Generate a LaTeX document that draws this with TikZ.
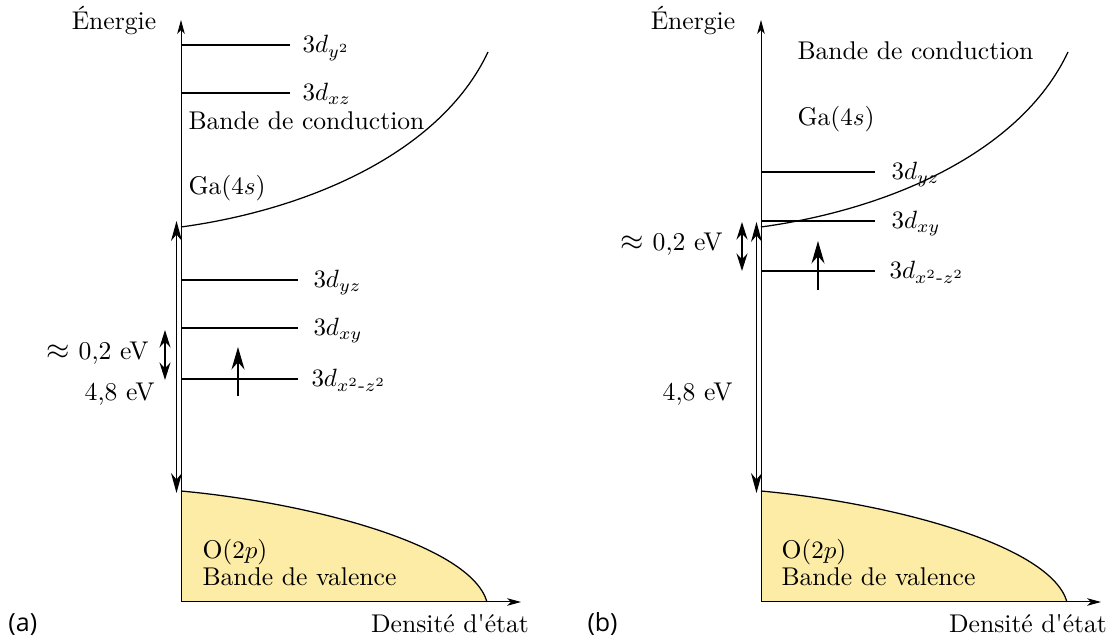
\documentclass[tikz,border=0pt]{standalone}
\usepackage{amsmath}
\usepackage{fontspec}
\newfontfamily\panelfont{Open Sans}
\usetikzlibrary{arrows.meta}
\definecolor{valyellow}{RGB}{253,236,166}
\begin{document}
\begin{tikzpicture}[x=0.4pt,y=-0.4pt,
  axisline/.style={line width=0.4pt,-{Stealth[length=5.5pt,width=3pt,inset=1.5pt]}},
  level/.style={line width=0.65pt},
  bigarrow/.style={line width=0.45pt,{Stealth[length=8pt,width=4.4pt]}-{Stealth[length=8pt,width=4.4pt]}},
  gaparrow/.style={line width=0.6pt,{Stealth[length=7pt,width=4.4pt]}-{Stealth[length=7pt,width=4.4pt]}},
  spin/.style={line width=0.6pt,-{Stealth[length=9pt,width=5.2pt]}},
  band/.style={line width=0.5pt},
  txt/.style={inner sep=0pt,font=\fontsize{10.25}{12}\selectfont},
  lvl/.style={txt,anchor=base west},
  paneltag/.style={inner sep=0pt,anchor=base west,font=\panelfont\fontsize{10}{12}\selectfont}
]
\useasboundingbox (0,0) rectangle (1116,639);

% ================= Panel (a) =================
\coordinate (a-O) at (181,602);
\coordinate (a-Ytop) at (181,20);
\coordinate (a-Xend) at (521,602);
\coordinate (a-vtop) at (181,491);
\coordinate (a-vend) at (487,602);
\fill[valyellow] (a-vtop) .. controls (311,503) and (471,545) .. (a-vend) -- (a-O) -- cycle;
\draw[band] (a-vtop) .. controls (311,503) and (471,545) .. (a-vend);
\draw[axisline] (a-O) -- (a-Ytop);
\draw[axisline] (a-O) -- (a-Xend);
\coordinate (a-cb) at (181,227);
\coordinate (a-cend) at (488,52);
\draw[band] (a-cb) .. controls (306,210) and (440,154) .. (a-cend);

\coordinate (a-g1) at (176.5,221);
\coordinate (a-g2) at (176.5,493);
\draw[bigarrow] (a-g2) -- (a-g1);

% levels
\coordinate (a-l1s) at (181,45);  \coordinate (a-l1e) at (290,45);
\coordinate (a-l2s) at (181,93);  \coordinate (a-l2e) at (290,93);
\coordinate (a-l3s) at (181,280); \coordinate (a-l3e) at (298,280);
\coordinate (a-l4s) at (181,328); \coordinate (a-l4e) at (298,328);
\coordinate (a-l5s) at (181,379); \coordinate (a-l5e) at (298,379);
\draw[level] (a-l1s) -- (a-l1e);
\draw[level] (a-l2s) -- (a-l2e);
\draw[level] (a-l3s) -- (a-l3e);
\draw[level] (a-l4s) -- (a-l4e);
\draw[level] (a-l5s) -- (a-l5e);
\node[lvl] (a-t1) at (302,53) {$3d_{y^2}$};
\node[lvl] (a-t2) at (302,101) {$3d_{xz}$};
\node[lvl] (a-t3) at (313,288) {$3d_{yz}$};
\node[lvl] (a-t4) at (313,336) {$3d_{xy}$};
\node[lvl] (a-t5) at (311,387) {$3d_{x^2\textrm{-}z^2}$};

\coordinate (a-e1) at (238,396);
\coordinate (a-e2) at (238,347);
\draw[spin] (a-e1) -- (a-e2);

\coordinate (a-s1) at (165,330);
\coordinate (a-s2) at (165,380);
\draw[gaparrow] (a-s1) -- (a-s2);

\node[txt,anchor=base east] (a-gap) at (149,360) {{\large$\approx$} 0,2 eV};
\node[txt,anchor=base east] (a-eg) at (155,401) {4,8 eV};
\node[txt,anchor=base] (a-energy) at (114,30) {Énergie};
\node[txt,anchor=base] (a-dos) at (450,633) {Densité d\textquotesingle état};
\node[txt,anchor=base west] (a-cond) at (188,130) {Bande de conduction};
\node[txt,anchor=base west] (a-ga) at (188,195) {Ga($4s$)};
\node[txt,anchor=base west] (a-o) at (202,558) {O($2p$)};
\node[txt,anchor=base west] (a-val) at (202,586) {Bande de valence};
\node[paneltag] (a-tag) at (8,632) {(a)};

% ================= Panel (b) =================
\coordinate (b-O) at (761,602);
\coordinate (b-Ytop) at (761,20);
\coordinate (b-Xend) at (1101,602);
\coordinate (b-vtop) at (761,491);
\coordinate (b-vend) at (1067,602);
\fill[valyellow] (b-vtop) .. controls (891,503) and (1051,545) .. (b-vend) -- (b-O) -- cycle;
\draw[band] (b-vtop) .. controls (891,503) and (1051,545) .. (b-vend);
\draw[axisline] (b-O) -- (b-Ytop);
\draw[axisline] (b-O) -- (b-Xend);
\coordinate (b-cb) at (761,227);
\coordinate (b-cend) at (1068,52);
\draw[band] (b-cb) .. controls (886,210) and (1020,154) .. (b-cend);

\coordinate (b-g1) at (756.5,222);
\coordinate (b-g2) at (756.5,493);
\draw[bigarrow] (b-g2) -- (b-g1);

\coordinate (b-l3s) at (761,172); \coordinate (b-l3e) at (875,172);
\coordinate (b-l4s) at (761,221); \coordinate (b-l4e) at (875,221);
\coordinate (b-l5s) at (761,271); \coordinate (b-l5e) at (875,271);
\draw[level] (b-l3s) -- (b-l3e);
\draw[level] (b-l4s) -- (b-l4e);
\draw[level] (b-l5s) -- (b-l5e);
\node[lvl] (b-t3) at (891,180) {$3d_{yz}$};
\node[lvl] (b-t4) at (891,229) {$3d_{xy}$};
\node[lvl] (b-t5) at (889,279) {$3d_{x^2\textrm{-}z^2}$};

\coordinate (b-e1) at (818,290);
\coordinate (b-e2) at (818,241);
\draw[spin] (b-e1) -- (b-e2);

\coordinate (b-s1) at (742,222);
\coordinate (b-s2) at (742,271);
\draw[gaparrow] (b-s1) -- (b-s2);

\node[txt,anchor=base east] (b-gap) at (723,251) {{\large$\approx$} 0,2 eV};
\node[txt,anchor=base east] (b-eg) at (733,401) {4,8 eV};
\node[txt,anchor=base] (b-energy) at (693,30) {Énergie};
\node[txt,anchor=base] (b-dos) at (1028,633) {Densité d\textquotesingle état};
\node[txt,anchor=base west] (b-cond) at (797,60) {Bande de conduction};
\node[txt,anchor=base west] (b-ga) at (797,126) {Ga($4s$)};
\node[txt,anchor=base west] (b-o) at (781,558) {O($2p$)};
\node[txt,anchor=base west] (b-val) at (781,586) {Bande de valence};
\node[paneltag] (b-tag) at (587,632) {(b)};
\end{tikzpicture}
\end{document}
